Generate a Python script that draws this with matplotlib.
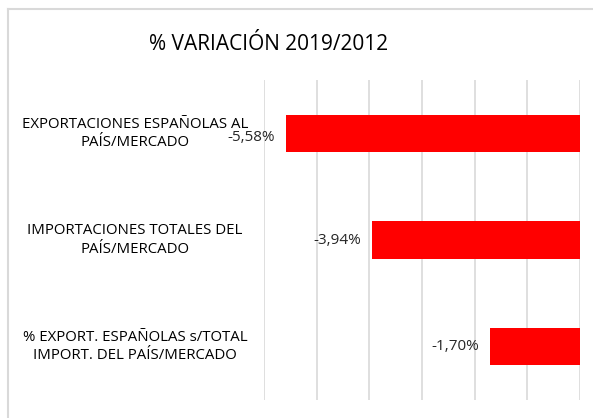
import matplotlib.pyplot as plt
from matplotlib.lines import Line2D

# === Data ===
categories = [
    "EXPORTACIONES ESPAÑOLAS AL\nPAÍS/MERCADO",
    "IMPORTACIONES TOTALES DEL\nPAÍS/MERCADO",
    "% EXPORT. ESPAÑOLAS s/TOTAL\nIMPORT. DEL PAÍS/MERCADO",
]
values = [-5.58, -3.94, -1.70]
value_labels = ["-5,58%", "-3,94%", "-1,70%"]
title = "% VARIACIÓN 2019/2012"

plt.rcParams["font.family"] = ["Open Sans", "DejaVu Sans"]

W, H = 593, 418
fig = plt.figure(figsize=(W / 100, H / 100), dpi=100)
# axes placed in pixel terms: x 264..580, y 80..400
ax = fig.add_axes([264 / W, 1 - 400 / H, (580 - 264) / W, (400 - 80) / H])

ypos = list(range(len(categories)))
ax.barh(ypos, values, height=0.35, color="#ff0000")
ax.set_xlim(-6, 0)
ax.set_ylim(len(categories) - 0.5, -0.5)

ax.set_xticks([-6, -5, -4, -3, -2, -1, 0])
ax.xaxis.grid(True, color="#d9d9d9", linewidth=1.2)
ax.set_axisbelow(True)
ax.tick_params(left=False, bottom=False, labelbottom=False, labelleft=False)
for s in ax.spines.values():
    s.set_visible(False)

# category labels, centered left of the plot area
for y, lab in zip(ypos, categories):
    ax.annotate(lab, xy=(0, y), xycoords=("axes fraction", "data"),
                xytext=(-129, 0), textcoords="offset pixels",
                ha="center", va="center", fontsize=10.8, color="#000000",
                linespacing=1.3)

# value labels at bar ends (first one sits a bit lower, as in the source)
for i, (v, t) in enumerate(zip(values, value_labels)):
    dy = -4 if i == 0 else 0
    ax.annotate(t, xy=(v, i), xytext=(-11, dy), textcoords="offset pixels",
                ha="right", va="center", fontsize=11, color="#262626")

fig.text(269 / W, 1 - 44 / H, title, ha="center", va="center", fontsize=15,
         color="#000000")

# outer chart border (left and top visible)
fig.add_artist(Line2D([8 / W, 8 / W], [0, 1 - 9 / H], transform=fig.transFigure,
                      color="#d9d9d9", linewidth=1.5))
fig.add_artist(Line2D([8 / W, 1], [1 - 9 / H, 1 - 9 / H], transform=fig.transFigure,
                      color="#d9d9d9", linewidth=1.5))

fig.savefig("out.png", dpi=100)
